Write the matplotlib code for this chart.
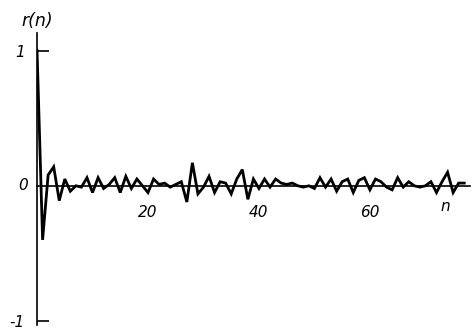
import matplotlib
matplotlib.use("Agg")
import matplotlib.pyplot as plt
import numpy as np

# Autocorrelation r(n), n = 0..77
n_values = list(range(78))
r_values = [
    1.00, -0.40, 0.08, 0.14, -0.11, 0.05, -0.04, 0.00, -0.01, 0.06,
    -0.05, 0.06, -0.02, 0.01, 0.06, -0.05, 0.07, -0.02, 0.05, 0.00,
    -0.05, 0.05, 0.01, 0.02, -0.01, 0.01, 0.03, -0.12, 0.17, -0.06,
    -0.01, 0.07, -0.05, 0.03, 0.02, -0.06, 0.05, 0.12, -0.10, 0.05,
    -0.02, 0.05, -0.01, 0.05, 0.02, 0.01, 0.02, 0.00, -0.01, 0.00,
    -0.02, 0.06, -0.01, 0.05, -0.04, 0.03, 0.05, -0.05, 0.04, 0.06,
    -0.03, 0.05, 0.03, -0.01, -0.03, 0.06, -0.01, 0.03, 0.00, -0.01,
    0.00, 0.03, -0.05, 0.03, 0.10, -0.05, 0.02, 0.02,
]
x_ticks = [20, 40, 60]
x_tick_labels = ["20", "40", "60"]
y_ticks = [-1, 1]
y_tick_labels = ["-1", "1"]

fig = plt.figure(figsize=(4.75, 3.3), dpi=100)
fig.patch.set_facecolor("white")
ax = fig.add_axes([0.078, 0.015, 0.911, 0.885])
ax.set_facecolor("white")

ax.plot(n_values, r_values, color="black", lw=2.0, solid_joinstyle="miter")

ax.set_xlim(0, 78)
ax.set_ylim(-1.03, 1.13)

for s in ["top", "right"]:
    ax.spines[s].set_visible(False)
ax.spines["left"].set_position(("data", 0))
ax.spines["bottom"].set_position(("data", 0))
ax.spines["left"].set_linewidth(1.2)
ax.spines["bottom"].set_linewidth(1.2)

font = dict(family="DejaVu Sans", style="italic", size=11)

ax.set_xticks(x_ticks)
ax.set_xticklabels(x_tick_labels, **font)
ax.tick_params(axis="x", length=0, pad=14)

ax.set_yticks(y_ticks)
ax.set_yticklabels(y_tick_labels, **font)
ax.tick_params(axis="y", direction="in", length=8.5, width=1.2, pad=9)

ax.text(-2.6, 0, "0", ha="center", va="center", **font)
ax.text(73.5, -0.155, "n", ha="center", va="center", **font)
ax.text(0, 1.15, "r(n)", ha="center", va="bottom", clip_on=False,
        family="DejaVu Sans", style="italic", size=12.5)

fig.savefig("out.png", dpi=100)
